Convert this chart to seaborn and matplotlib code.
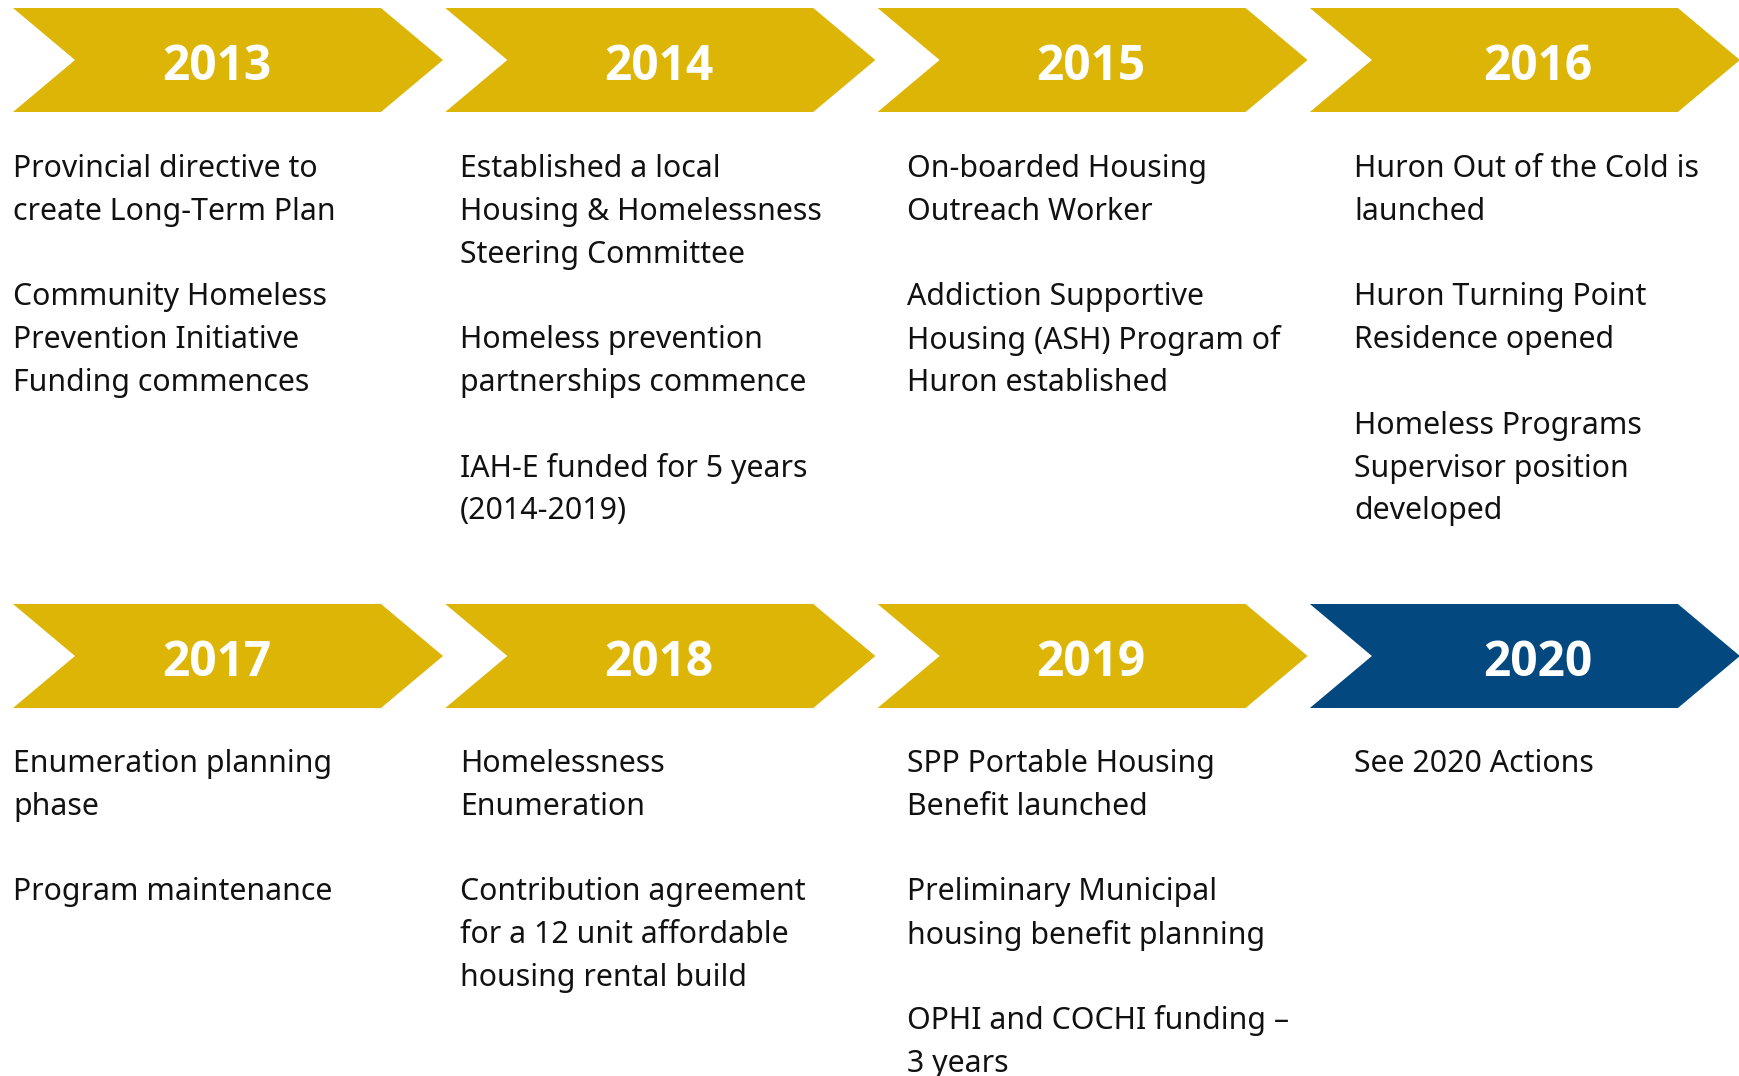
import matplotlib
matplotlib.use("Agg")
import matplotlib.pyplot as plt
import seaborn as sns

# ---- data ----
years = ["2013", "2014", "2015", "2016", "2017", "2018", "2019", "2020"]
arrow_colors = ["#DDB506", "#DDB506", "#DDB506", "#DDB506",
                "#DDB506", "#DDB506", "#DDB506", "#034980"]
events_2013 = ["Provincial directive to\ncreate Long-Term Plan",
               "Community Homeless\nPrevention Initiative\nFunding commences"]
events_2014 = ["Established a local\nHousing & Homelessness\nSteering Committee",
               "Homeless prevention\npartnerships commence",
               "IAH-E funded for 5 years\n(2014-2019)"]
events_2015 = ["On-boarded Housing\nOutreach Worker",
               "Addiction Supportive\nHousing (ASH) Program of\nHuron established"]
events_2016 = ["Huron Out of the Cold is\nlaunched",
               "Huron Turning Point\nResidence opened",
               "Homeless Programs\nSupervisor position\ndeveloped"]
events_2017 = ["Enumeration planning\nphase", "Program maintenance"]
events_2018 = ["Homelessness\nEnumeration",
               "Contribution agreement\nfor a 12 unit affordable\nhousing rental build"]
events_2019 = ["SPP Portable Housing\nBenefit launched",
               "Preliminary Municipal\nhousing benefit planning",
               "OPHI and COCHI funding –\n3 years"]
events_2020 = ["See 2020 Actions"]
events = [events_2013, events_2014, events_2015, events_2016,
          events_2017, events_2018, events_2019, events_2020]

# ---- layout ----
W, H = 1740, 1076
sns.set_theme(style="white")
plt.rcParams['font.family'] = ['Noto Sans', 'DejaVu Sans']

fig = plt.figure(figsize=(W / 100, H / 100), dpi=100)
ax = fig.add_axes([0, 0, 1, 1])
ax.set_xlim(0, W)
ax.set_ylim(H, 0)
ax.axis("off")

arrow_left0 = 13
arrow_step = 432.3
arrow_len = 430
notch = 62
row_top = [8, 604]
row_h = 104
year_x = [217, 659, 1091, 1538]
text_left0 = 13
text_step = 447
text_first = [169, 764]
line_pitch = 42.8

for i, (yr, col, evs) in enumerate(zip(years, arrow_colors, events)):
    r, c = divmod(i, 4)
    x0 = arrow_left0 + c * arrow_step
    x1 = x0 + arrow_len
    yt = row_top[r]
    yb = yt + row_h
    ym = (yt + yb) / 2
    xs = [x0, x1 - notch, x1, x1 - notch, x0, x0 + notch]
    ys = [yt, yt, ym, yb, yb, ym]
    ax.fill(xs, ys, color=col, lw=0)
    ax.text(year_x[c], ym + 8, yr, color="white", fontsize=34.5,
            fontweight="bold", ha="center", va="center",
            family=["Open Sans", "DejaVu Sans"])
    lines = []
    for k, ev in enumerate(evs):
        if k > 0:
            lines.append("")
        lines.extend(ev.split("\n"))
    tx = text_left0 + c * text_step
    for j, ln in enumerate(lines):
        if ln:
            ax.text(tx, text_first[r] + j * line_pitch, ln, color="#111111",
                    fontsize=21.8, ha="left", va="center")

fig.savefig("out.png", dpi=100, facecolor="white")
